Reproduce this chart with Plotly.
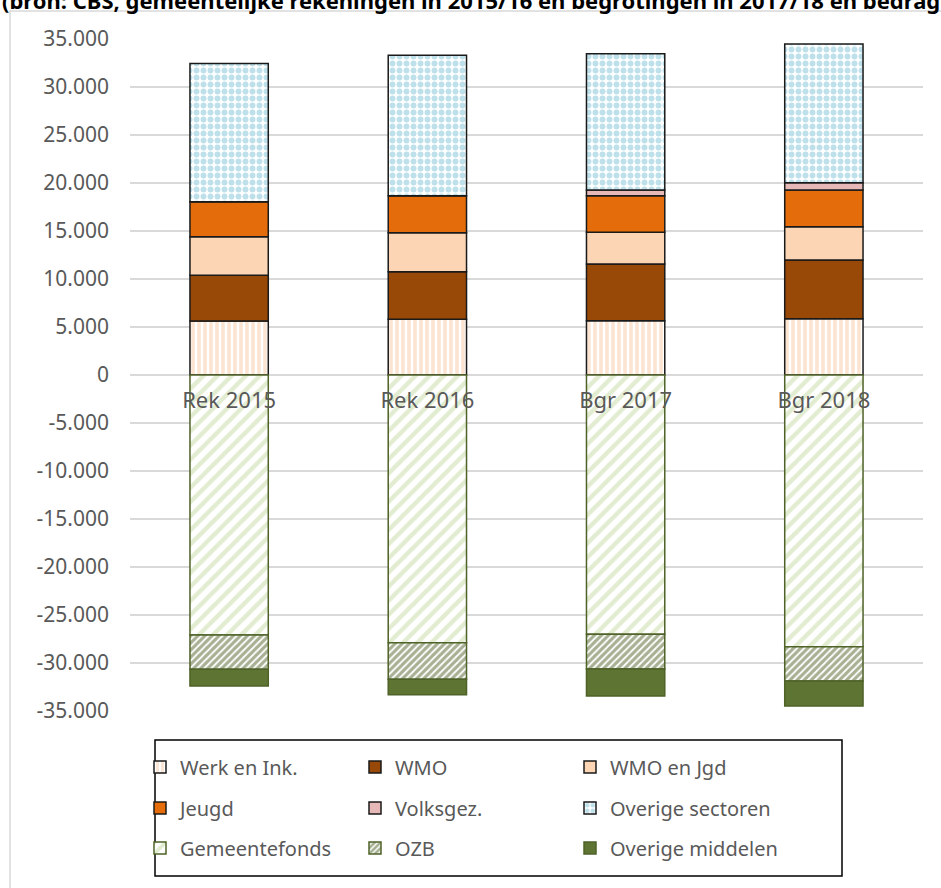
import plotly.graph_objects as go

categories = ["Rek 2015", "Rek 2016", "Bgr 2017", "Bgr 2018"]

werk_en_ink = [5620, 5800, 5660, 5870]
wmo = [4760, 4960, 5900, 6110]
wmo_en_jgd = [4020, 4060, 3300, 3470]
jeugd = [3650, 3860, 3820, 3820]
volksgez = [0, 0, 590, 760]
overige_sectoren = [14410, 14620, 14200, 14440]
gemeentefonds = [-27080, -27880, -27010, -28300]
ozb = [-3580, -3820, -3610, -3580]
overige_middelen = [-1740, -1600, -2810, -2600]

y_tickvals = [35000, 30000, 25000, 20000, 15000, 10000, 5000, 0,
              -5000, -10000, -15000, -20000, -25000, -30000, -35000]
y_ticktext = ["35.000", "30.000", "25.000", "20.000", "15.000", "10.000", "5.000", "0",
              "-5.000", "-10.000", "-15.000", "-20.000", "-25.000", "-30.000", "-35.000"]

title_text = "(bron: CBS, gemeentelijke rekeningen in 2015/16 en begrotingen in 2017/18 en bedragen x € mln)"

FONT = "Noto Sans"
GREY = "#595959"
DARKGREEN = "#4F6228"

W, H = 941, 888
ml, mr, mt, mb = 130, 18, 39, 177
pw, ph = W - ml - mr, H - mt - mb
plot_bottom = H - mb

fig = go.Figure()

def add(name, vals, legend, color=None, pattern=None, line_color="#1a1a1a"):
    marker = dict(line=dict(color=line_color, width=1.5))
    if pattern:
        marker["color"] = "white"
        marker["pattern"] = pattern
    else:
        marker["color"] = color
    fig.add_trace(go.Bar(name=name, x=categories, y=vals, marker=marker,
                         width=0.395, legend=legend))

add("Werk en Ink.", werk_en_ink, "legend",
    pattern=dict(shape="|", fgcolor="#F8C9A4", bgcolor="white", size=6, solidity=0.6, fillmode="overlay"))
add("WMO", wmo, "legend", color="#984807")
add("WMO en Jgd", wmo_en_jgd, "legend", color="#FCD5B5")
add("Jeugd", jeugd, "legend2", color="#E46C0A")
add("Volksgez.", volksgez, "legend2", color="#E6B9B8")
add("Overige sectoren", overige_sectoren, "legend2",
    pattern=dict(shape=".", fgcolor="#7EC1D6", bgcolor="white", size=7, solidity=0.55, fillmode="overlay"))
add("Gemeentefonds", gemeentefonds, "legend3",
    pattern=dict(shape="/", fgcolor="#C6DAA3", bgcolor="white", size=10, solidity=0.45, fillmode="overlay"),
    line_color=DARKGREEN)
add("OZB", ozb, "legend3",
    pattern=dict(shape="/", fgcolor=DARKGREEN, bgcolor="white", size=5, solidity=0.65, fillmode="overlay"),
    line_color=DARKGREEN)
add("Overige middelen", overige_middelen, "legend3", color="#5E7432", line_color=DARKGREEN)

def legend_row(ypix):
    return dict(
        orientation="h", x=(140 - ml) / pw, xanchor="left",
        y=(plot_bottom - ypix) / ph, yanchor="middle",
        borderwidth=0, bgcolor="rgba(0,0,0,0)",
        font=dict(family=FONT, size=20, color=GREY),
        entrywidth=170, itemwidth=30, traceorder="normal",
        itemclick=False, itemdoubleclick=False,
    )

fig.update_layout(
    width=W, height=H,
    margin=dict(l=ml, r=mr, t=mt, b=mb, autoexpand=False),
    barmode="relative",
    plot_bgcolor="white", paper_bgcolor="white",
    font=dict(family=FONT, size=20, color=GREY),
    showlegend=True,
    legend=legend_row(767),
    legend2=legend_row(808),
    legend3=legend_row(848),
    xaxis=dict(
        anchor="free", position=0.5, showline=False, ticks="",
        showgrid=False, tickfont=dict(family=FONT, size=22, color=GREY),
        ticklabelstandoff=10,
    ),
    yaxis=dict(
        range=[-35000, 35000], tickvals=y_tickvals, ticktext=y_ticktext,
        showgrid=True, gridcolor="#D9D9D9", gridwidth=1.5,
        zeroline=True, zerolinecolor="#D9D9D9", zerolinewidth=1.5,
        showline=False, ticks="", tickfont=dict(family=FONT, size=21, color=GREY),
        ticklabelstandoff=20,
    ),
)

# outer chart-area frame
fig.add_shape(type="rect", xref="paper", yref="paper",
              x0=(10 - ml) / pw, x1=(980 - ml) / pw,
              y0=-(930 - plot_bottom) / ph, y1=(plot_bottom - 11) / ph,
              line=dict(color="#D9D9D9", width=1.5), fillcolor="rgba(0,0,0,0)", layer="below")

# legend frame
fig.add_shape(type="rect", xref="paper", yref="paper",
              x0=(155 - ml) / pw, x1=(842 - ml) / pw,
              y0=(plot_bottom - 876) / ph, y1=(plot_bottom - 740) / ph,
              line=dict(color="#000000", width=1.5), fillcolor="rgba(0,0,0,0)")

fig.add_annotation(text="<b>" + title_text + "</b>", xref="paper", yref="paper",
                   x=-ml / pw, y=1, xanchor="left", yanchor="bottom",
                   yshift=mt - 17, showarrow=False, align="left",
                   font=dict(family=FONT, size=22, color="black"))

fig.write_html("out.html")
